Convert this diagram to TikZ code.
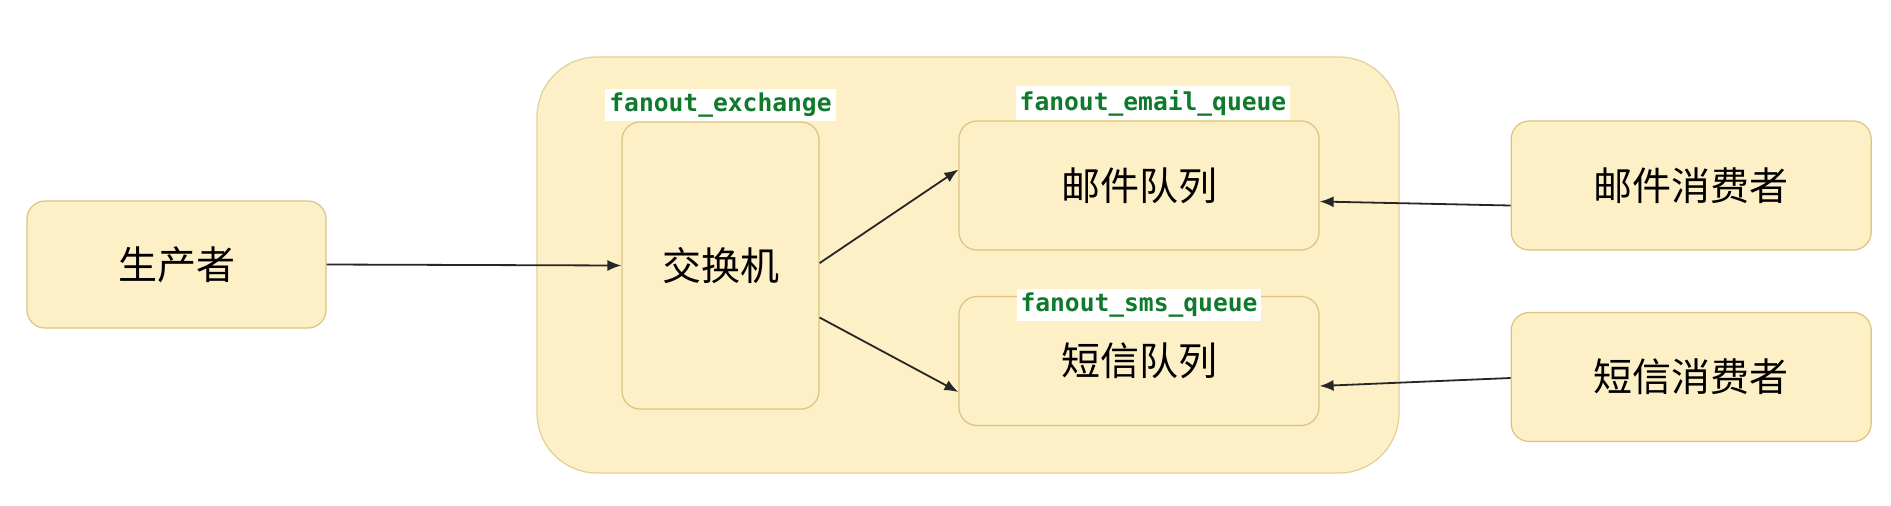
\documentclass[tikz,border=0pt]{standalone}
\usepackage{fontspec}
\usepackage{xcolor}
\usepackage{tikz}
\usetikzlibrary{arrows.meta, positioning, calc}

\newfontfamily\cjk{Noto Sans CJK SC}
\newfontfamily\codefont{DejaVu Sans Mono}

\definecolor{boxfill}{HTML}{FDEFC6}
\definecolor{boxline}{HTML}{DCC47E}
\definecolor{tagtext}{HTML}{0F7A2C}

\begin{document}
\begin{tikzpicture}[
				x=0.5pt, y=-0.5pt,
				% Defining node styles
				box/.style={rectangle, rounded corners=9pt, draw=boxline, line width=0.6pt, fill=boxfill, text centered, font=\cjk\fontsize{19.5pt}{23pt}\selectfont},
				queue_box/.style={box, minimum width=180pt, minimum height=64.5pt},
				container/.style={rectangle, rounded corners=30pt, draw=boxline!80, line width=0.6pt, fill=boxfill, minimum width=431pt, minimum height=208pt},
				tag/.style={fill=white, text=tagtext, inner sep=2pt, font=\codefont\bfseries\fontsize{12.3pt}{14pt}\selectfont},
				connector/.style={-{Latex[length=7pt, width=5.5pt]}, line width=0.9pt, draw=black!85}
			]

			\useasboundingbox (0,0) rectangle (1891,505);

			% Broker container
			\node[container] (B) at (968,265) {};

			% Placing core nodes
			\node[box, minimum width=149.5pt, minimum height=63.5pt] (P) at (176.5,264.5) {生产者};
			\node[box, minimum width=98.5pt, minimum height=143.5pt] (X) at (720.5,265.5) {交换机};
			\node[queue_box] (EQ) at (1139,185.5) {邮件队列};
			\node[queue_box] (SQ) at (1139,361) {短信队列};
			\node[queue_box, right=95.5pt of EQ] (EC) {邮件消费者};
			\node[queue_box, right=95.5pt of SQ, yshift=-8pt] (SC) {短信消费者};

			% Adding name tags
			\node[tag, above=0pt of X.north] (XT) {fanout\_exchange};
			\node[tag, above=0pt of EQ.north, xshift=7pt] (EQT) {fanout\_email\_queue};
			\node[tag] (SQT) at ([yshift=-4.5pt]SQ.north) {fanout\_sms\_queue};

			% Drawing connections
			\draw[connector] (P.east) -- (X.west);
			\draw[connector] ([yshift=1.2pt]X.east) -- ([yshift=8pt]EQ.west);
			\draw[connector] ([yshift=-26pt]X.east) -- ([yshift=-15.5pt]SQ.west);
			\draw[connector] ([yshift=-10pt]EC.west) -- ([yshift=-8pt]EQ.east);
			\draw[connector] ([yshift=-0.5pt]SC.west) -- ([yshift=-12.5pt]SQ.east);

		\end{tikzpicture}
\end{document}
